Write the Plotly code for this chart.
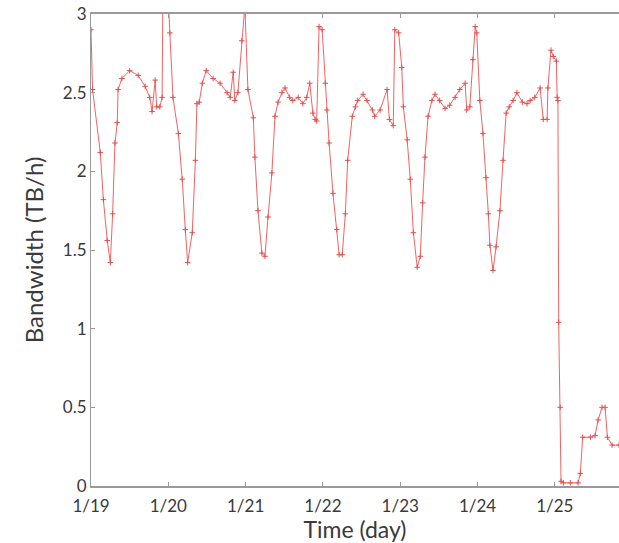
import plotly.graph_objects as go

# time in days since 1/19 00:00
days = [0.00, 0.02, 0.12, 0.16, 0.21, 0.25, 0.28, 0.31, 0.34, 0.35, 0.40, 0.50, 0.61, 0.70, 0.76,
        0.79, 0.83, 0.85, 0.89, 0.92, 0.93, 1.00, 1.02, 1.06, 1.13, 1.18, 1.22, 1.25, 1.31, 1.35,
        1.37, 1.40, 1.44, 1.49, 1.58, 1.67, 1.76, 1.80, 1.84, 1.86, 1.90, 1.95, 1.99, 2.03, 2.10,
        2.12, 2.16, 2.21, 2.25, 2.29, 2.34, 2.38, 2.42, 2.47, 2.51, 2.57, 2.61, 2.68, 2.74, 2.79,
        2.83, 2.87, 2.90, 2.92, 2.95, 2.99, 3.03, 3.05, 3.08, 3.13, 3.18, 3.21, 3.25, 3.29, 3.32,
        3.38, 3.42, 3.45, 3.52, 3.57, 3.64, 3.67, 3.74, 3.83, 3.86, 3.91, 3.93, 3.98, 4.02, 4.04,
        4.09, 4.13, 4.17, 4.22, 4.26, 4.29, 4.32, 4.36, 4.41, 4.45, 4.51, 4.58, 4.64, 4.71, 4.77,
        4.84, 4.86, 4.90, 4.94, 4.97, 4.99, 5.03, 5.07, 5.11, 5.14, 5.16, 5.20, 5.24, 5.29, 5.33,
        5.37, 5.41, 5.46, 5.51, 5.58, 5.64, 5.68, 5.74, 5.81, 5.85, 5.90, 5.91, 5.95, 5.98, 6.02,
        6.03, 6.04, 6.05, 6.07, 6.08, 6.11, 6.20, 6.30, 6.33, 6.36, 6.46, 6.52, 6.56, 6.61, 6.65,
        6.68, 6.74, 6.83, 6.91]

bandwidth = [2.90, 2.52, 2.12, 1.82, 1.56, 1.42, 1.73, 2.18, 2.31, 2.52, 2.59, 2.64, 2.61, 2.54, 2.47,
             2.38, 2.58, 2.41, 2.41, 2.47, 3.10, 3.10, 2.88, 2.47, 2.24, 1.95, 1.63, 1.42, 1.61, 2.07,
             2.43, 2.44, 2.56, 2.64, 2.59, 2.56, 2.50, 2.47, 2.63, 2.45, 2.50, 2.83, 3.05, 2.52, 2.34,
             2.09, 1.75, 1.48, 1.46, 1.71, 1.99, 2.35, 2.44, 2.50, 2.53, 2.47, 2.45, 2.47, 2.43, 2.47,
             2.56, 2.37, 2.33, 2.32, 2.92, 2.90, 2.56, 2.39, 2.18, 1.86, 1.63, 1.47, 1.47, 1.73, 2.07,
             2.35, 2.41, 2.45, 2.49, 2.45, 2.39, 2.35, 2.39, 2.52, 2.33, 2.29, 2.90, 2.88, 2.66, 2.41,
             2.20, 1.95, 1.61, 1.39, 1.46, 1.80, 2.09, 2.35, 2.45, 2.49, 2.45, 2.40, 2.42, 2.47, 2.52,
             2.56, 2.39, 2.41, 2.71, 2.92, 2.88, 2.45, 2.24, 1.96, 1.73, 1.53, 1.37, 1.52, 1.75, 2.07,
             2.37, 2.41, 2.45, 2.50, 2.44, 2.43, 2.45, 2.47, 2.53, 2.33, 2.33, 2.53, 2.77, 2.73, 2.70,
             2.47, 2.45, 1.04, 0.50, 0.03, 0.02, 0.02, 0.02, 0.08, 0.31, 0.31, 0.32, 0.42, 0.50, 0.50,
             0.31, 0.26, 0.26, 0.25]

tick_vals = [0, 1, 2, 3, 4, 5, 6]
tick_text = ["1/19", "1/20", "1/21", "1/22", "1/23", "1/24", "1/25"]
y_vals = [0, 0.5, 1, 1.5, 2, 2.5, 3]
y_text = ["0", "0.5", "1", "1.5", "2", "2.5", "3"]

FONT = "Lato, Open Sans, sans-serif"
axis_font = dict(family=FONT, size=17, color="#3a3a3a")

fig = go.Figure()
fig.add_trace(go.Scatter(
    x=days, y=bandwidth, mode="lines+markers",
    line=dict(color="rgb(240,100,100)", width=1),
    marker=dict(symbol="cross-thin", size=4, line=dict(color="rgb(225,80,80)", width=1)),
    showlegend=False,
))

fig.update_layout(
    width=619, height=543,
    margin=dict(l=91, r=0, t=14, b=57, autoexpand=False),
    paper_bgcolor="white", plot_bgcolor="white",
    font=axis_font,
    xaxis=dict(
        range=[0, 6.83], tickvals=tick_vals, ticktext=tick_text,
        showgrid=False, zeroline=False, automargin=False,
        showline=True, linecolor="#9a9a9a", linewidth=2, mirror="allticks",
        ticks="inside", ticklen=4, tickcolor="#9a9a9a", ticklabelstandoff=4,
        title=dict(text="Time (day)", font=dict(family=FONT, size=23, color="#3a3a3a"), standoff=2),
        tickfont=axis_font,
    ),
    yaxis=dict(
        range=[0, 3], tickvals=y_vals, ticktext=y_text,
        showgrid=False, zeroline=False, automargin=False,
        showline=True, linecolor="#9a9a9a", linewidth=1,
        ticks="inside", ticklen=4, tickcolor="#9a9a9a",
        title=dict(text="Bandwidth (TB/h)", font=dict(family=FONT, size=24, color="#3a3a3a"), standoff=12),
        tickfont=axis_font,
    ),
)

fig.write_html("out.html", config={"displayModeBar": False},
               post_script="document.body.style.margin='0';document.body.style.overflow='hidden';")
